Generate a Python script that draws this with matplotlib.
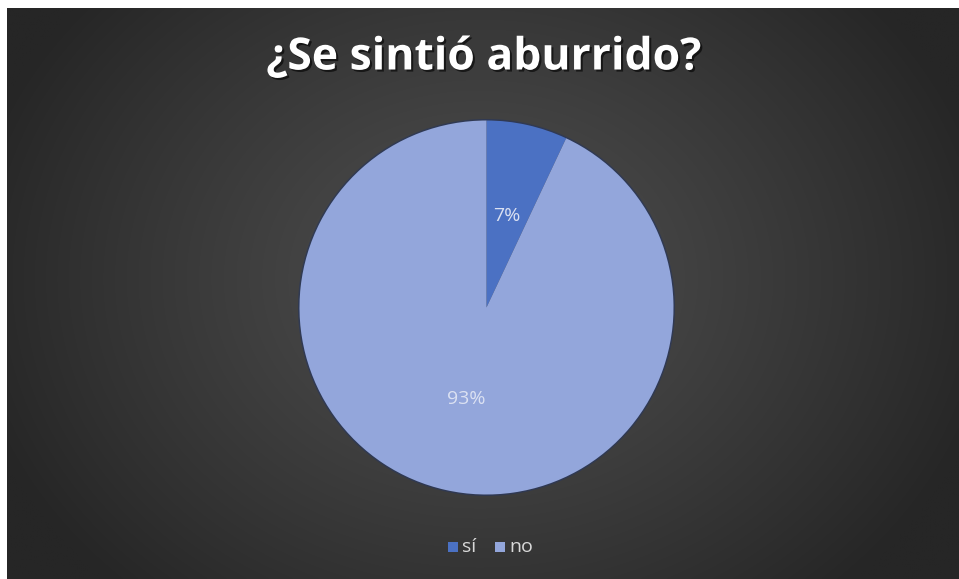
import numpy as np
import matplotlib
matplotlib.use("Agg")
import matplotlib.pyplot as plt
from matplotlib import patheffects as pe
from matplotlib.patches import Circle, Rectangle

plt.rcParams['font.family'] = ['Open Sans', 'DejaVu Sans']

# Data
categories = ["sí", "no"]
values = [7, 93]
colors = ["#4b71c3", "#93a6db"]
title = "¿Se sintió aburrido?"

W, H = 959, 579
fig = plt.figure(figsize=(W / 100, H / 100), dpi=100, facecolor="white")
ax = fig.add_axes([0, 0, 1, 1])
ax.set_xlim(0, W)
ax.set_ylim(0, H)
ax.set_aspect("equal")
ax.axis("off")

# Dark radial-gradient panel
x0, y0, x1, y1 = 7, 0, W, H - 8
gx = np.linspace(x0, x1, 480)
gy = np.linspace(y0, y1, 290)
X, Y = np.meshgrid(gx, gy)
cx, cy = 480, 300
r = np.sqrt(((X - cx) / ((x1 - x0) * 0.55)) ** 2 + ((Y - cy) / ((y1 - y0) * 0.75)) ** 2)
t = np.clip(r, 0, 1) ** 1.2
lo, hi = 0x26 / 255, 0x4e / 255
val = hi + (lo - hi) * t
img = np.dstack([val, val, val])
ax.imshow(img, extent=(x0, x1, y0, y1), origin="lower", zorder=0, interpolation="bilinear")

# Pie
center = (486.5, H - 307.5)
radius = 187
ax.add_patch(Circle(center, radius + 1.5, facecolor="#2c3858", edgecolor="none", zorder=1, alpha=0.8))
wedges, texts, autotexts = ax.pie(
    values, colors=colors, startangle=90, counterclock=False,
    center=center, radius=radius, autopct="%1.0f%%", pctdistance=0.5,
    wedgeprops=dict(linewidth=0, zorder=2), frame=True,
    textprops=dict(color="#dbe1f2", fontsize=14),
)
for w in wedges:
    w.set_zorder(2)
for a in autotexts:
    a.set_zorder(3)
ax.set_xlim(0, W)
ax.set_ylim(0, H)
ax.set_aspect("equal")
ax.axis("off")

# Title
ax.text(484, H - 58, title, ha="center", va="center", fontsize=32, fontweight="bold",
        color="white", zorder=4,
        path_effects=[pe.withSimplePatchShadow(offset=(1.5, -1.5), shadow_rgbFace="black", alpha=0.6)])

# Legend
ly = H - 547
legend_items = [(448, categories[0], colors[0]), (495, categories[1], colors[1])]
for lx, lab, col in legend_items:
    ax.add_patch(Rectangle((lx, ly - 5), 10, 10, facecolor=col, edgecolor="none", zorder=4))
    ax.text(lx + 14, ly, lab, ha="left", va="center", fontsize=14, color="#d9d9d9", zorder=4)

fig.savefig("out.png", dpi=100, facecolor="white")
